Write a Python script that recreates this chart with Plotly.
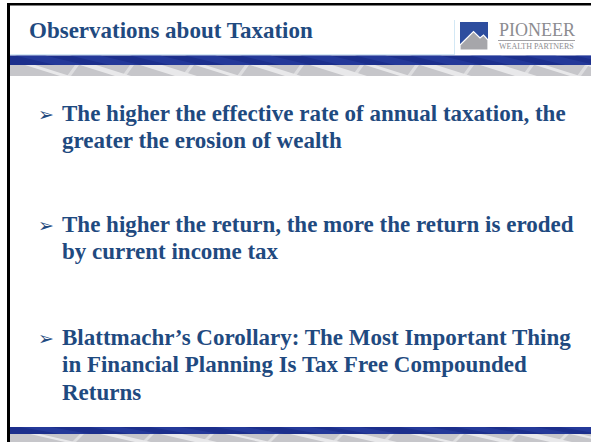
import plotly.graph_objects as go

# ---- content ----
title_text = "Observations about Taxation"
bullets = [
    ["The higher the effective rate of annual taxation, the",
     "greater the erosion of wealth"],
    ["The higher the return, the more the return is eroded",
     "by current income tax"],
    ["Blattmachr\u2019s Corollary: The Most Important Thing",
     "in Financial Planning Is Tax Free Compounded",
     "Returns"],
]
logo_name = "PIONEER"
logo_sub = "WEALTH PARTNERS"

# ---- style / layout constants ----
W, H = 591, 442
TEXT_BLUE = "#1f4a80"
BAND_BLUE = "#1c2f8c"
BAND_GREY = "#c6c6ca"
FONT = "Liberation Serif, Times New Roman, serif"
bullet_baselines = [121, 232, 345]
line_step = 27.7
text_size = 23

fig = go.Figure()
shapes = []
annos = []

def rect(x0, y0, x1, y1, color, line=None, layer="above", opacity=1):
    shapes.append(dict(type="rect", xref="x", yref="y", x0=x0, y0=y0, x1=x1, y1=y1,
                       fillcolor=color, opacity=opacity,
                       line=dict(width=0) if line is None else line, layer=layer))

def path(d, color, opacity=1, line=None):
    shapes.append(dict(type="path", xref="x", yref="y", path=d, fillcolor=color,
                       opacity=opacity, line=dict(width=0) if line is None else line))

def seg(x0, y0, x1, y1, color, width=1):
    shapes.append(dict(type="line", xref="x", yref="y", x0=x0, y0=y0, x1=x1, y1=y1,
                       line=dict(color=color, width=width)))

def bands(yb0, yb1, yg0, yg1, offs):
    rect(10, yb0, W, yb1, BAND_BLUE)
    for x in offs:
        path(f"M {x},{yb0} L {x+30},{yb0} L {x+70},{yb1} L {x+40},{yb1} Z", "#2f48a8", 0.45)
    rect(10, yg0, W, yg1, BAND_GREY)
    for i, x in enumerate(offs):
        w = 10 + (i % 3) * 6
        path(f"M {x+10},{yg0} L {x+10+w},{yg0} L {x+45+w},{yg1} L {x+45},{yg1} Z", "#ffffff", 0.6)
        path(f"M {x+60},{yg0} L {x+64},{yg0} L {x+56},{yg1} L {x+52},{yg1} Z", "#e8e8ea", 0.7)

# header separator lines
seg(10, 54.5, 454, 54.5, "#d3e8f5", 1)
seg(454.5, 20, 454.5, 55, "#d3e8f5", 1)

# top and bottom textured bands
bands(55.5, 65, 65, 76, [15, 70, 130, 185, 240, 300, 355, 410, 470, 525, 575])
bands(427, 434, 434, 442, [20, 90, 150, 215, 280, 330, 400, 455, 505, 560])

# slide border (top and left)
rect(7, 3, W, 5.5, "#000000")
rect(7, 3, 10, H, "#000000")

# logo
rect(460, 22, 488, 50, "#2d4d9e")
path("M 460,45 L 473.5,31.5 L 480,38 L 483.5,35 L 488,40 L 488,50 L 460,50 Z", "#a6a6aa",
     line=dict(color="#ffffff", width=1.2))
seg(498, 40.5, 575, 40.5, "#a0a0a4", 1)
annos.append(dict(x=497, y=29.5, xref="x", yref="y", text=logo_name, showarrow=False,
                  xanchor="left", yanchor="middle",
                  font=dict(family=FONT, size=18, color="#8c8c90")))
annos.append(dict(x=497, y=46.5, xref="x", yref="y", text=logo_sub, showarrow=False,
                  xanchor="left", yanchor="middle",
                  font=dict(family=FONT, size=8, color="#8c8c90")))

# title
annos.append(dict(x=27, y=30, xref="x", yref="y", text=f"<b>{title_text}</b>", showarrow=False,
                  xanchor="left", yanchor="middle",
                  font=dict(family=FONT, size=text_size, color=TEXT_BLUE)))

# bullets
for b, lines in enumerate(bullets):
    base = bullet_baselines[b]
    annos.append(dict(x=36, y=base - 7, xref="x", yref="y", text="\u27a2", showarrow=False,
                      xanchor="left", yanchor="middle",
                      font=dict(family="DejaVu Sans", size=19, color=TEXT_BLUE)))
    for i, ln in enumerate(lines):
        y = base + i * line_step - 8
        annos.append(dict(x=60, y=y, xref="x", yref="y", text=f"<b>{ln}</b>", showarrow=False,
                          xanchor="left", yanchor="middle",
                          font=dict(family=FONT, size=text_size, color=TEXT_BLUE)))

fig.update_layout(
    width=W, height=H, margin=dict(l=0, r=0, t=0, b=0),
    paper_bgcolor="white", plot_bgcolor="white",
    xaxis=dict(range=[0, W], visible=False, fixedrange=True),
    yaxis=dict(range=[H, 0], visible=False, fixedrange=True),
    shapes=shapes, annotations=annos, showlegend=False,
)
fig.write_html("out.html", config={"displayModeBar": False},
               post_script="document.body.style.margin='0';document.body.style.overflow='hidden';")
